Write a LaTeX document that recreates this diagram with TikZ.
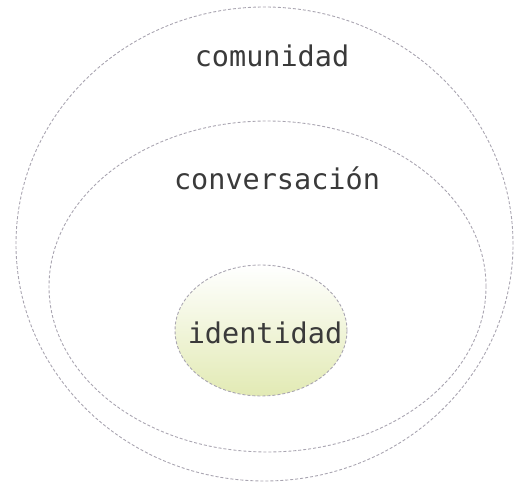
\documentclass[tikz,border=0pt]{standalone}
\usepackage{fontspec}
\newfontfamily\labelfont{DejaVu Sans Mono}
\usepackage{tikz}
\usetikzlibrary{shapes.geometric}
\definecolor{rimgray}{HTML}{A9A5B1}
\definecolor{textgray}{HTML}{3A3A3A}
\definecolor{paleolive}{HTML}{E2EAB4}
\tikzstyle{ring}=[ellipse, draw=rimgray, line width=0.9pt,
                  dash pattern=on 3pt off 2pt, inner sep=0pt, outer sep=0pt]
\tikzstyle{word}=[inner sep=0pt, anchor=base, text=textgray,
                  font=\labelfont\fontsize{28.5}{30}\selectfont]
\tikzstyle{every picture}=[x=1pt,y=1pt]

\begin{document}
\begin{tikzpicture}
      \useasboundingbox (0,0) rectangle (526,487);
      \node[ring, minimum width=497, minimum height=474]
	(comunidad) at (264.5,243) {};
      \node[ring, minimum width=437, minimum height=331]
	(conversacion) at (267.5,200.5) {};
      \node[ring, minimum width=172, minimum height=131,
	top color=white, bottom color=paleolive]
	(identidad) at (261,156.5) {};
      \node[word] (comlabel) at (272,420) {comunidad};
      \node[word] (convlabel) at (277,297) {conversación};
      \node[word] (idlabel) at (265,144) {identidad};
      \end{tikzpicture}
\end{document}
